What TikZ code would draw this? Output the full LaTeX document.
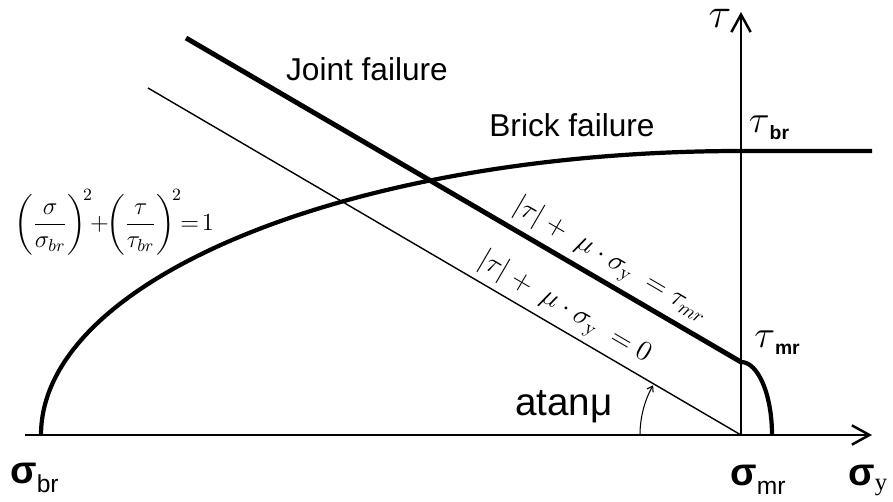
\RequirePackage{fix-cm}
\documentclass[tikz,border=0pt]{standalone}
\usepackage{amsmath}
\usepackage[no-math]{fontspec}
\setmainfont{Liberation Sans}
\newfontfamily\serifface{Liberation Serif}
\usetikzlibrary{arrows.meta}

% axis symbols: sans sigma with a subscript
\newcommand{\sigmalbl}[1]{{\fontsize{22}{22}\selectfont\bfseries σ}\raisebox{-5.5pt}{\fontsize{14}{14}\selectfont #1}}
\newcommand{\taulbl}[1]{{\fontsize{22}{22}\selectfont$\tau$}\raisebox{-4pt}{\fontsize{11}{11}\selectfont\bfseries #1}}

\begin{document}
\begin{tikzpicture}[x=0.02cm, y=0.02cm,
    axis/.style={line width=1.6pt},
    envelope/.style={line width=2.4pt},
    joint/.style={line width=2.8pt},
    zeroline/.style={line width=0.8pt},
    lbl/.style={font=\fontsize{18}{20}\selectfont, inner sep=0pt},
    eqn/.style={font=\fontsize{16}{18}\selectfont, inner sep=3pt}]
    \useasboundingbox (0,0) rectangle (893,501);

    % --- Axes ---
    \coordinate (O) at (741,66);
    \coordinate (xend) at (872,66);
    \coordinate (yend) at (741,489);
    \draw[axis] (25,66) -- (O);
    \draw[axis, -{Straight Barb[length=10pt,width=11pt,line width=1.4pt]}] (O) -- (xend);
    \draw[axis, -{Straight Barb[length=10pt,width=11pt,line width=1.4pt]}] (O) -- (yend);

    % --- Brick failure envelope ---
    \draw[envelope] (41,66) arc[start angle=180, end angle=90, x radius=700, y radius=284]
        coordinate (tbr) -- (872,350);

    % --- Joint failure lines ---
    \coordinate (tmr) at (741,139);
    \draw[joint] (186,463) -- (tmr)
        node[pos=0.745, sloped, above, eqn] (jointeq) {$\left|\tau\right|+\ \mu\cdot\sigma_{\mathrm{y}}\ =\tau_{mr}$};
    \draw[zeroline] (148,413) -- (O)
        node[pos=0.685, sloped, above, eqn] (zeroeq) {$\left|\tau\right|+\ \mu\cdot\sigma_{\mathrm{y}}\ = 0$};

    % small cap between tau_mr and sigma_mr
    \draw[envelope] (tmr) arc[start angle=90, end angle=0, x radius=31, y radius=73];

    % angle of friction
    \draw[line width=0.6pt, -{Straight Barb[length=3pt,width=4pt]}] (640,66)
        arc[start angle=180, end angle=150.5, radius=101];

    % --- Labels ---
    \node[lbl, anchor=base] (jointlbl) at (367,420) {Joint failure};
    \node[lbl, anchor=base] (bricklbl) at (572,364) {Brick failure};
    \node[inner sep=0pt, anchor=base, font=\fontsize{22}{24}\selectfont] (atanlbl) at (564,86) {atanμ};
    \node[inner sep=0pt, font=\fontsize{14}{16}\selectfont] (critlbl) at (114,279)
        {$\left(\dfrac{\sigma}{\sigma_{br}}\right)^{\!2}\!\!+\!\!\left(\dfrac{\tau}{\tau_{br}}\right)^{\!2}\!\!=\!1$};

    \node[inner sep=0pt, anchor=base, font=\fontsize{24}{24}\selectfont] (taulbl) at (720,473) {$\tau$};
    \node[inner sep=0pt] (tbrlbl) at (769,373) {\taulbl{br}};
    \node[inner sep=0pt] (tmrlbl) at (777,158) {\taulbl{mr}};

    \node[inner sep=0pt, anchor=base west] (sbrlbl) at (10,18) {\sigmalbl{br}};
    \node[inner sep=0pt, anchor=base west] (smrlbl) at (730,16) {\sigmalbl{mr}};
    \node[inner sep=0pt, anchor=base west] (sylbl) at (848,16)
        {{\fontsize{22}{22}\selectfont\bfseries σ}\raisebox{-3pt}{\fontsize{14}{14}\serifface y}};
\end{tikzpicture}
\end{document}
